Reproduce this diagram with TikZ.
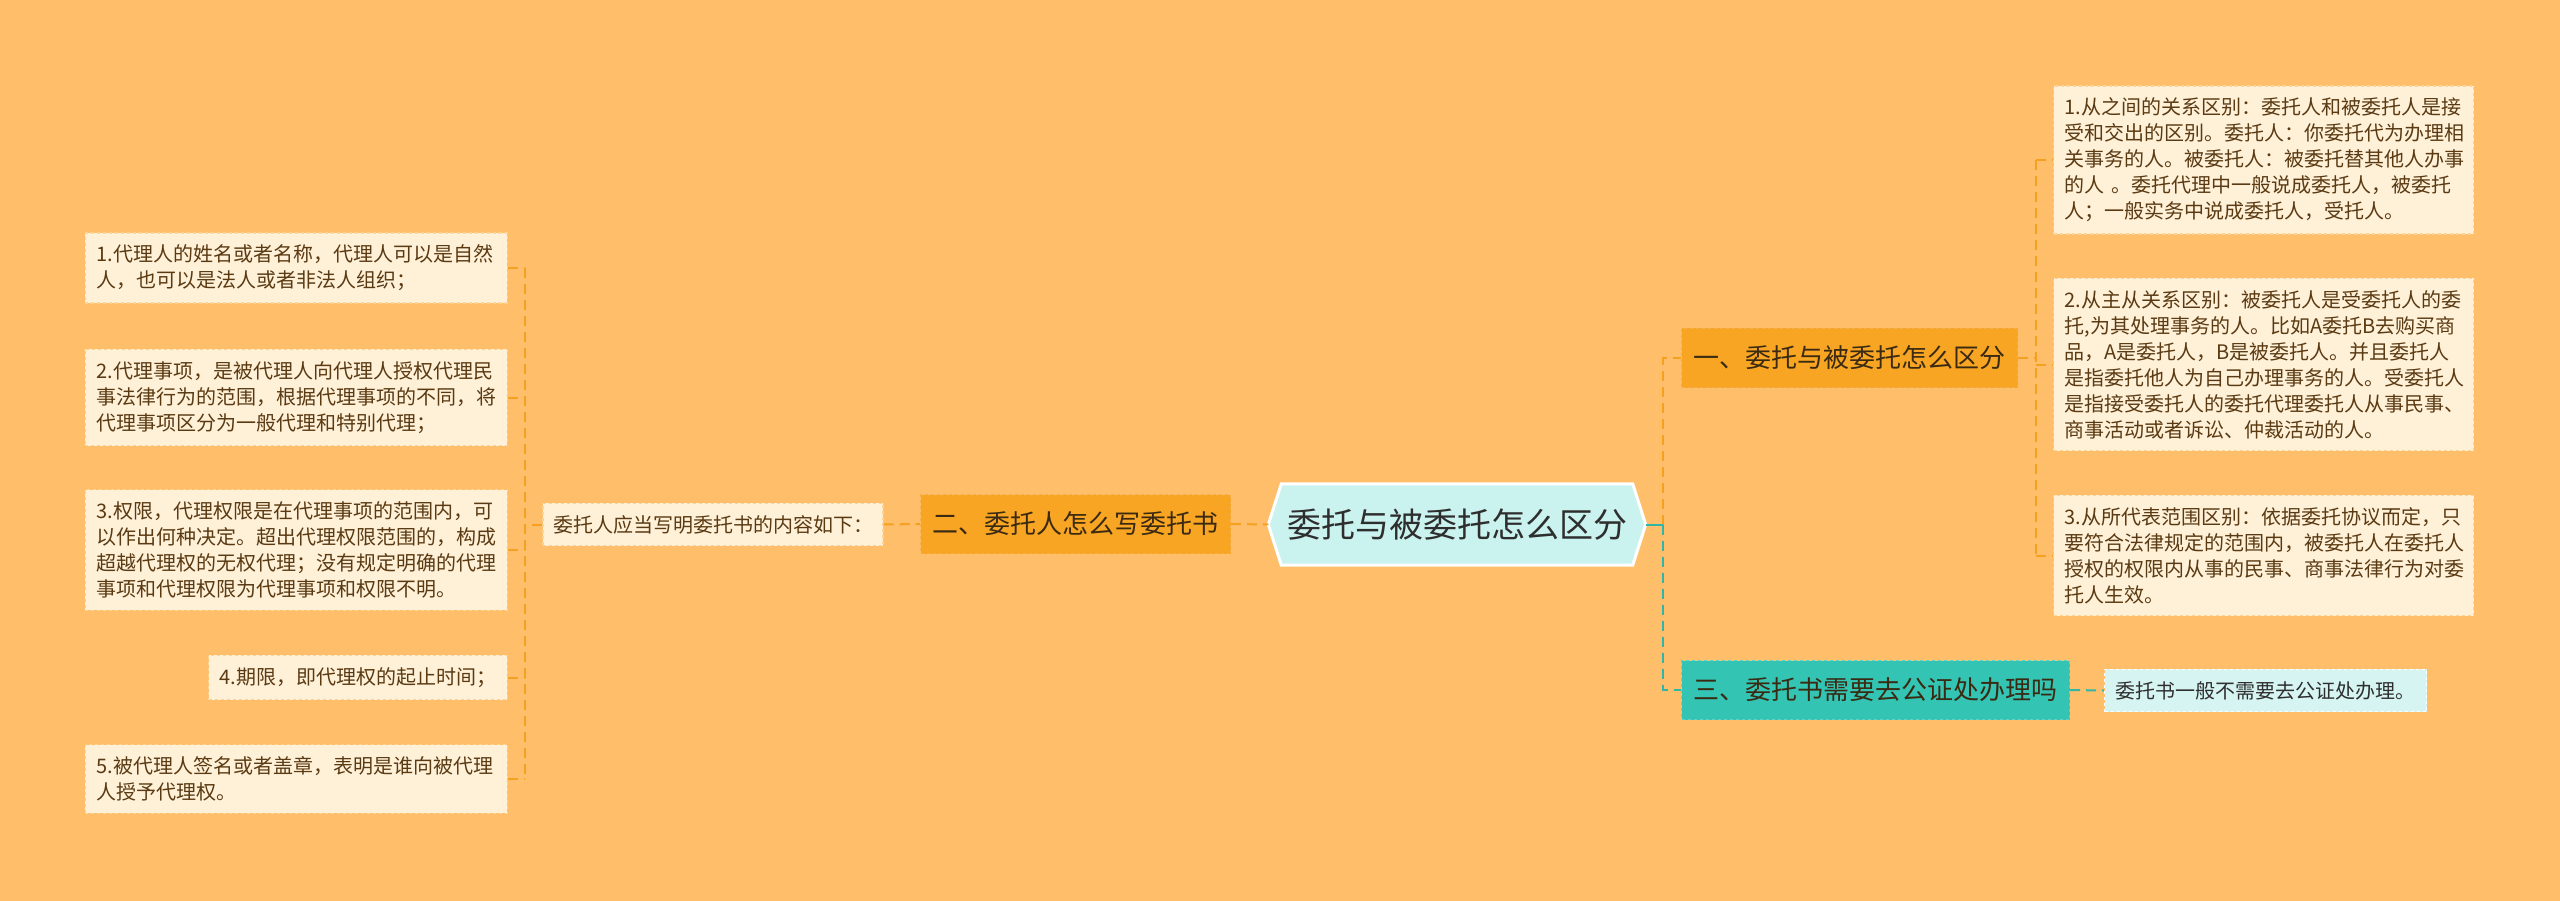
\documentclass[tikz,border=0pt]{standalone}
\usepackage{fontspec}
\newfontfamily\cjk{Noto Sans CJK SC}
\usetikzlibrary{backgrounds}
\definecolor{bgc}{HTML}{FFBE69}
\definecolor{leaffill}{HTML}{FFF0D8}
\definecolor{leafline}{HTML}{F9D597}
\definecolor{leaftext}{HTML}{5A3A12}
\definecolor{brO}{HTML}{F8A524}
\definecolor{brOline}{HTML}{F3B04A}
\definecolor{brT}{HTML}{33C4B3}
\definecolor{brTline}{HTML}{5FD3C5}
\definecolor{brtext}{HTML}{3A2A12}
\definecolor{cfill}{HTML}{CAF2EE}
\definecolor{ctext}{HTML}{2E2E2E}
\definecolor{tfill}{HTML}{D6F5F2}
\definecolor{lineO}{HTML}{F5A020}
\definecolor{lineT}{HTML}{30B5A6}
\begin{document}
\begin{tikzpicture}[x=1pt,y=-1pt,
  leaf/.style={draw=leafline, dashed, line width=1.2pt, fill=leaffill,
    font=\cjk\fontsize{20}{26}\selectfont, text=leaftext, align=left,
    inner xsep=11pt, inner ysep=12pt},
  leafT/.style={leaf, fill=tfill, draw=white, text=ctext},
  branchO/.style={fill=brO, draw=brOline, dashed, line width=1.2pt,
    font=\cjk\fontsize{26}{30}\selectfont, text=brtext,
    minimum height=59pt, inner xsep=12pt},
  branchT/.style={branchO, fill=brT, draw=brTline},
  conO/.style={draw=lineO, line width=2pt, dash pattern=on 10pt off 6pt},
  conT/.style={draw=lineT, line width=2pt, dash pattern=on 10pt off 6pt}]
\begin{scope}[on background layer]
\fill[bgc] (0,0) rectangle (2560,901);
\end{scope}
\useasboundingbox (0,0) rectangle (2560,901);

% central
\node[font=\cjk\fontsize{34}{40}\selectfont, text=ctext, minimum width=377pt,
  minimum height=81pt, inner sep=0pt] (c) at (1457,524.5) {委托与被委托怎么区分};
\begin{scope}[on background layer]
\path[fill=cfill, draw=white, line width=3pt, line join=miter]
  (c.west) -- ([xshift=13pt]c.north west) -- ([xshift=-13pt]c.north east)
  -- (c.east) -- ([xshift=-13pt]c.south east) -- ([xshift=13pt]c.south west) -- cycle;
\end{scope}

% left side
\node[branchO] (b2) at (1075.5,524) {二、委托人怎么写委托书};
\node[leaf, inner xsep=10pt] (m) at (713,524.5) {委托人应当写明委托书的内容如下：};

\node[leaf, anchor=east, text width=400pt] (L1) at (508,268)
  {1.代理人的姓名或者名称，代理人可以是自然\\人，也可以是法人或者非法人组织；};
\node[leaf, anchor=east, text width=400pt] (L2) at (508,397.5)
  {2.代理事项，是被代理人向代理人授权代理民\\事法律行为的范围，根据代理事项的不同，将\\代理事项区分为一般代理和特别代理；};
\node[leaf, anchor=east, text width=400pt] (L3) at (508,550)
  {3.权限，代理权限是在代理事项的范围内，可\\以作出何种决定。超出代理权限范围的，构成\\超越代理权的无权代理；没有规定明确的代理\\事项和代理权限为代理事项和权限不明。};
\node[leaf, anchor=east] (L4) at (508,677.5) {4.期限，即代理权的起止时间；};
\node[leaf, anchor=east, text width=400pt] (L5) at (508,779)
  {5.被代理人签名或者盖章，表明是谁向被代理\\人授予代理权。};

% right side
\node[branchO] (b1) at (1849.5,358) {一、委托与被委托怎么区分};
\node[branchT] (b3) at (1875.5,690) {三、委托书需要去公证处办理吗};
\node[leafT] (t1) at (2265.5,690.5) {委托书一般不需要去公证处办理。};

\node[leaf, anchor=west, text width=398pt] (R1) at (2053,160)
  {1.从之间的关系区别：委托人和被委托人是接\\受和交出的区别。委托人：你委托代为办理相\\关事务的人。被委托人：被委托替其他人办事\\的人 。委托代理中一般说成委托人，被委托\\人；一般实务中说成委托人，受托人。};
\node[leaf, anchor=west, text width=398pt] (R2) at (2053,364.5)
  {2.从主从关系区别：被委托人是受委托人的委\\托,为其处理事务的人。比如A委托B去购买商\\品，A是委托人，B是被委托人。并且委托人\\是指委托他人为自己办理事务的人。受委托人\\是指接受委托人的委托代理委托人从事民事、\\商事活动或者诉讼、仲裁活动的人。};
\node[leaf, anchor=west, text width=398pt] (R3) at (2053,555.5)
  {3.从所代表范围区别：依据委托协议而定，只\\要符合法律规定的范围内，被委托人在委托人\\授权的权限内从事的民事、商事法律行为对委\\托人生效。};

% connectors left
\coordinate (lj) at (525,524.5);
\draw[conO] (m.west) -- (lj);
\draw[conO] (L1.east -| lj) -- (L5.east -| lj);
\foreach \n in {L1,L2,L3,L4,L5} \draw[conO] (\n.east) -- (\n.east -| lj);
\draw[conO] (m.east) -- (b2.west);
\draw[conO] (b2.east) -- (c.west);

% connectors right
\coordinate (rj) at (1663,524.5);
\draw[conO] (rj) |- (b1.west);
\draw[lineT, line width=2pt] (c.east) -- (rj);
\draw[conT] (rj) |- (b3.west);
\coordinate (rk) at (2036,358);
\draw[conO] (b1.east) -- (rk);
\draw[conO] (R1.west -| rk) -- (R3.west -| rk);
\foreach \n in {R1,R2,R3} \draw[conO] (\n.west -| rk) -- (\n.west);
\draw[conT] (b3.east) -- (t1.west);
\end{tikzpicture}
\end{document}
